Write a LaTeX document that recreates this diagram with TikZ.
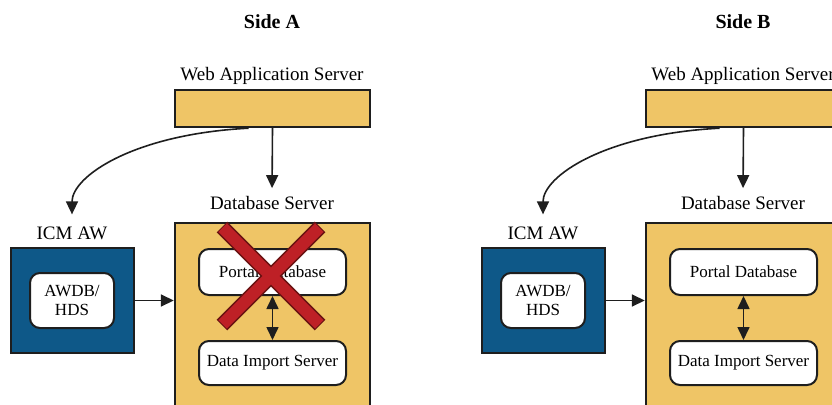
\documentclass[tikz,border=0pt]{standalone}
\usepackage{fontspec}
\setmainfont{Liberation Serif}
\usetikzlibrary{arrows.meta}
\definecolor{gold}{RGB}{239,197,102}
\definecolor{awblue}{RGB}{14,88,136}
\definecolor{xred}{RGB}{190,32,38}
\definecolor{xdark}{RGB}{105,18,18}
\definecolor{edge}{RGB}{30,30,30}
\begin{document}
\begin{tikzpicture}[x=1pt,y=-1pt,
  goldbox/.style={draw=edge, line width=2.4pt, fill=gold, inner sep=0pt},
  bluebox/.style={draw=edge, line width=2.4pt, fill=awblue, inner sep=0pt},
  roundbox/.style={draw=edge, line width=2pt, fill=white, rounded corners=10pt,
    align=center, inner sep=0pt, font=\fontsize{17}{18.5}\selectfont},
  lbl/.style={inner sep=0pt, font=\fontsize{19}{21}\selectfont},
  ttl/.style={inner sep=0pt, font=\bfseries\fontsize{20}{22}\selectfont},
  arr/.style={-{Triangle[length=13pt,width=12pt]}, line width=1.6pt, draw=edge},
  darr/.style={{Triangle[length=13pt,width=12pt]}-{Triangle[length=13pt,width=12pt]}, line width=1.6pt, draw=edge}
]
\useasboundingbox (0,0) rectangle (832,404);
\clip (0,0) rectangle (832,404);
\fill[white] (0,0) rectangle (832,404);

\foreach \p/\dx/\t in {a/0/A, b/471/B}{
\begin{scope}[xshift=\dx pt]
  \node[ttl] (title\p) at (272,22) {Side \t};
  \node[lbl] (weblbl\p) at (272,76) {Web Application Server};
  \node[goldbox, minimum width=195pt, minimum height=37pt] (web\p) at (272.5,108.5) {};
  \node[lbl] (dblbl\p) at (272,203) {Database Server};
  \node[goldbox, minimum width=195pt, minimum height=197pt] (db\p) at (272.5,321.5) {};
  \node[lbl] (icmlbl\p) at (72,233) {ICM AW};
  \node[bluebox, minimum width=123pt, minimum height=105pt] (aw\p) at (72.5,300.5) {};
  \node[roundbox, minimum width=84pt, minimum height=55pt] (awdb\p) at (72,300.5) {AWDB/\\HDS};
  \node[roundbox, minimum width=147pt, minimum height=46pt] (portal\p) at (272.5,272) {Portal Database};
  \node[roundbox, minimum width=147pt, minimum height=44pt] (dis\p) at (272.5,363) {Data Import Server};

  \draw[arr, shorten >=8pt] (web\p.south) -- (dblbl\p.north);
  \draw[arr, shorten >=12pt] ([xshift=-24pt]web\p.south) .. controls +(-115,6) and +(0,-50) .. (icmlbl\p.north);
  \draw[arr] (aw\p.east) -- (db\p.west |- aw\p.east);
  \draw[darr] (portal\p.south) -- (dis\p.north);
\end{scope}
}

% red cross on side A
\coordinate (xc) at (271,276);
\begin{scope}[line cap=butt]
  \draw[xdark, line width=15pt] ([shift={(-49,-49)}]xc) -- ([shift={(49,49)}]xc);
  \draw[xdark, line width=15pt] ([shift={(49,-49)}]xc) -- ([shift={(-49,49)}]xc);
  \draw[xred, line width=12pt] ([shift={(-48.3,-48.3)}]xc) -- ([shift={(48.3,48.3)}]xc);
  \draw[xred, line width=12pt] ([shift={(48.3,-48.3)}]xc) -- ([shift={(-48.3,48.3)}]xc);
\end{scope}
\end{tikzpicture}
\end{document}
